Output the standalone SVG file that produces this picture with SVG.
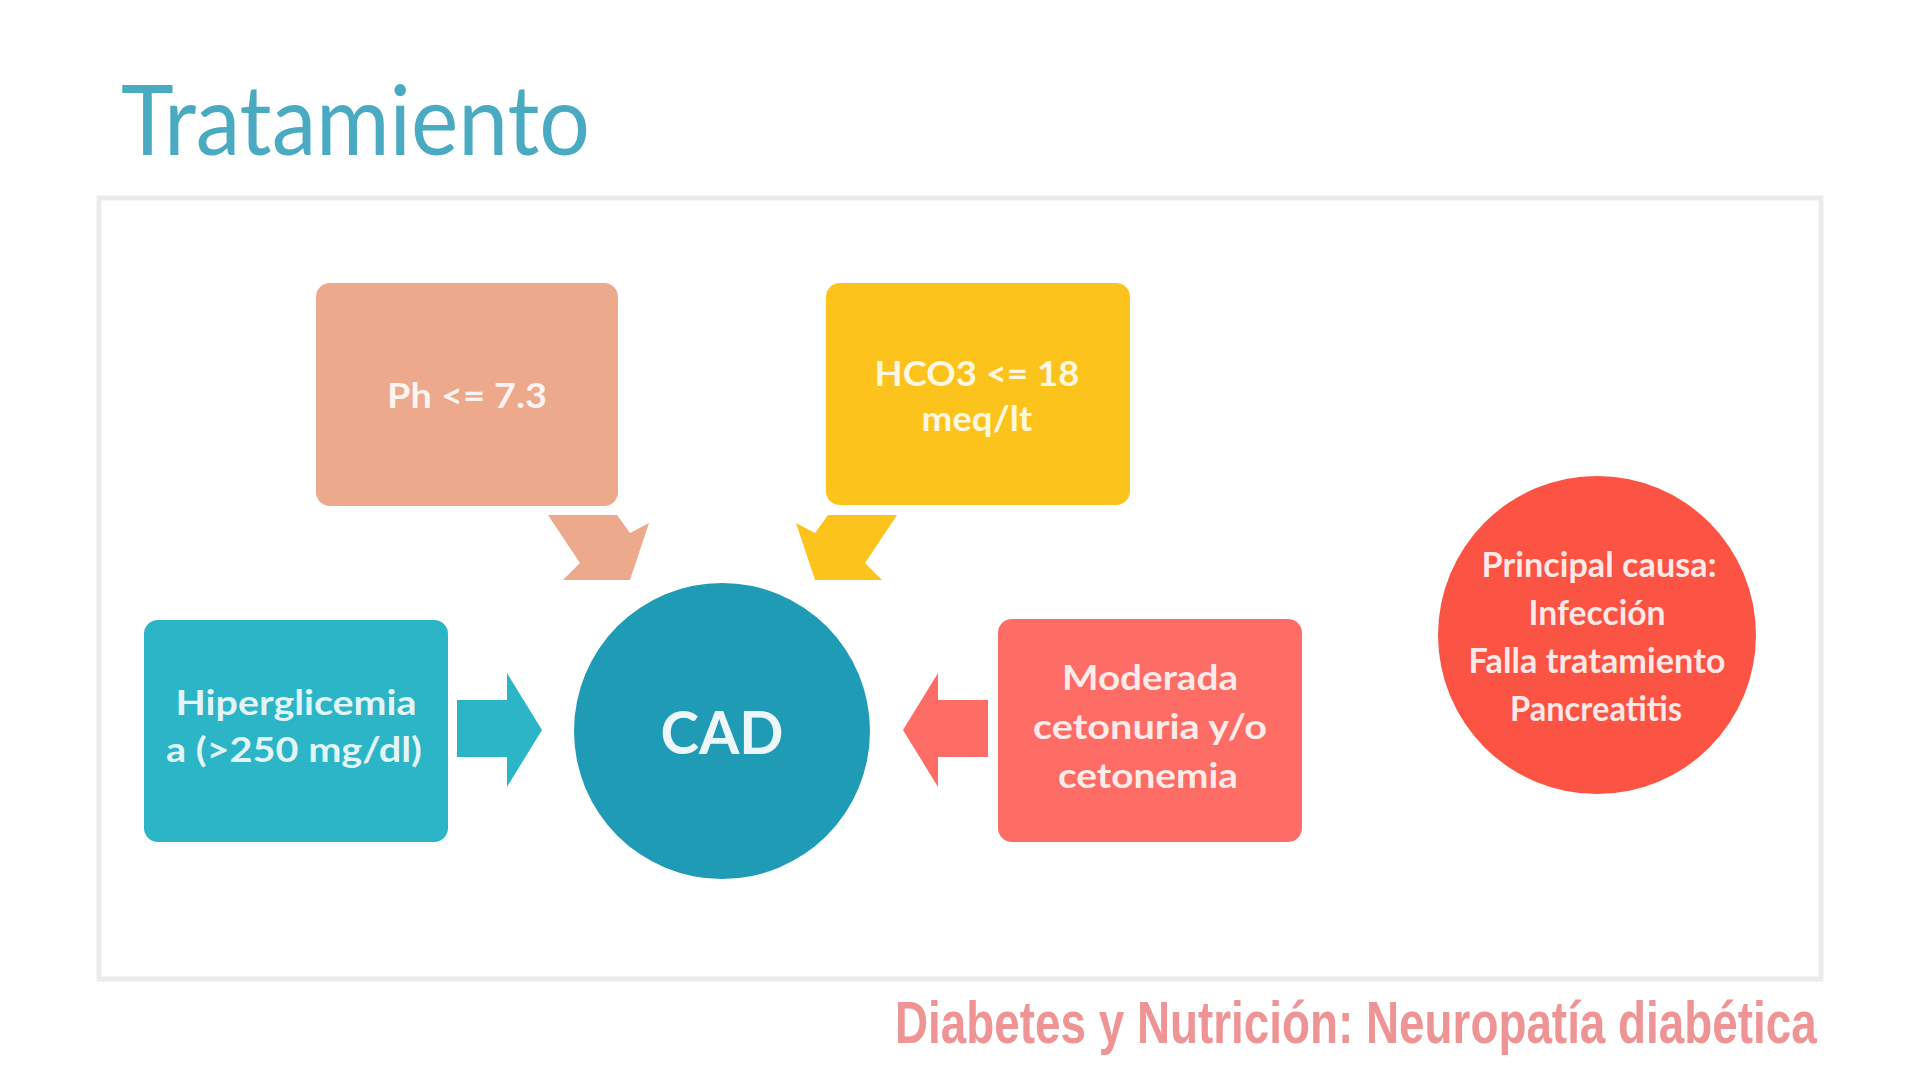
<svg xmlns="http://www.w3.org/2000/svg" width="1920" height="1080" viewBox="0 0 1920 1080">
  <style>
    .lbl { font-family: Lato, "Open Sans", "Liberation Sans", sans-serif; font-weight: 700; font-size: 34px; fill: #ffffff; fill-opacity: 0.88; text-anchor: middle; }
    .box { stroke: none; }
  </style>
  <rect width="1920" height="1080" fill="#ffffff"/>

  <!-- title -->
  <text x="121" y="155" font-family="Lato, 'Open Sans', 'Liberation Sans', sans-serif" font-size="97" fill="#4aaac2" textLength="469" lengthAdjust="spacingAndGlyphs">Tratamiento</text>

  <!-- content frame -->
  <rect x="99" y="198" width="1722" height="781" fill="none" stroke="#ebebeb" stroke-width="5"/>

  <!-- connectors -->
  <g id="connectors">
    <polygon id="arrow-ph" fill="#eda98b" points="548,515 617,515 630,533 649,523 630,580 563,580 580,563"/>
    <polygon id="arrow-hco3" fill="#fcc31d" points="897,515 828,515 815,533 796,523 815,580 882,580 865,563"/>
    <polygon id="arrow-hiper" fill="#2bb5c7" points="457,700 507,700 507,673 542,730 507,787 507,757 457,757"/>
    <polygon id="arrow-ceto" fill="#fe6c66" points="988,700 938,700 938,673 903,730 938,787 938,757 988,757"/>
  </g>

  <g id="node-ph">
    <rect class="box" x="316" y="283" width="302" height="223" rx="14" fill="#eda98b"/>
    <text class="lbl" x="467" y="408" textLength="160" lengthAdjust="spacingAndGlyphs">Ph &lt;= 7.3</text>
  </g>

  <g id="node-hco3">
    <rect class="box" x="826" y="283" width="304" height="222" rx="14" fill="#fcc31d"/>
    <text class="lbl" x="977" y="386" textLength="205" lengthAdjust="spacingAndGlyphs">HCO3 &lt;= 18</text>
    <text class="lbl" x="977" y="431" textLength="111" lengthAdjust="spacingAndGlyphs">meq/lt</text>
  </g>

  <g id="node-hiperglicemia">
    <rect class="box" x="144" y="620" width="304" height="222" rx="14" fill="#2bb5c7"/>
    <text class="lbl" x="296" y="715" textLength="241" lengthAdjust="spacingAndGlyphs">Hiperglicemia</text>
    <text class="lbl" x="294" y="762" textLength="256" lengthAdjust="spacingAndGlyphs">a (&gt;250 mg/dl)</text>
  </g>

  <g id="node-cad">
    <circle cx="722" cy="731" r="148" fill="#1f9bb6"/>
    <text x="722" y="754" font-family="Lato, 'Open Sans', 'Liberation Sans', sans-serif" font-weight="700" font-size="60" fill="#ffffff" fill-opacity="0.92" text-anchor="middle" textLength="123" lengthAdjust="spacingAndGlyphs">CAD</text>
  </g>

  <g id="node-cetonuria">
    <rect class="box" x="998" y="619" width="304" height="223" rx="14" fill="#fe6c66"/>
    <text class="lbl" x="1150" y="690" textLength="176" lengthAdjust="spacingAndGlyphs">Moderada</text>
    <text class="lbl" x="1150" y="739" textLength="234" lengthAdjust="spacingAndGlyphs">cetonuria y/o</text>
    <text class="lbl" x="1148" y="788" textLength="180" lengthAdjust="spacingAndGlyphs">cetonemia</text>
  </g>

  <g id="node-causa">
    <circle cx="1597" cy="635" r="159" fill="#fb5444"/>
    <text class="lbl" x="1599" y="577" textLength="235" lengthAdjust="spacingAndGlyphs">Principal causa:</text>
    <text class="lbl" x="1597" y="625" textLength="137" lengthAdjust="spacingAndGlyphs">Infección</text>
    <text class="lbl" x="1597" y="673" textLength="257" lengthAdjust="spacingAndGlyphs">Falla tratamiento</text>
    <text class="lbl" x="1596" y="721" textLength="172" lengthAdjust="spacingAndGlyphs">Pancreatitis</text>
  </g>

  <!-- footer, horizontally condensed -->
  <g transform="translate(895 1043) scale(0.645 1)">
    <text x="0" y="0" font-family="'Liberation Sans', Lato, sans-serif" font-weight="700" font-size="60" fill="#ee9494" textLength="1429" lengthAdjust="spacingAndGlyphs">Diabetes y Nutrición: Neuropatía diabética</text>
  </g>
</svg>
